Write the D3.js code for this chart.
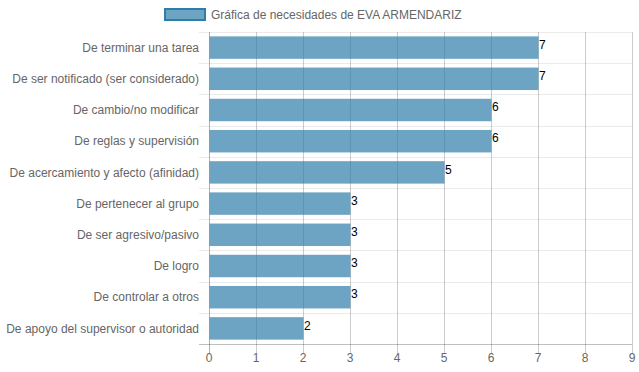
<!DOCTYPE html>
<html>
<head>
<meta charset="utf-8">
<script src="https://cdn.jsdelivr.net/npm/d3@7"></script>
<style>
  body { margin: 0; background: #fff; }
  svg { display: block; font-family: "Liberation Sans", Arial, Helvetica, sans-serif; }
</style>
</head>
<body>
<div id="chart"></div>
<script>
// Données du graphique
const categories = [
  "De terminar una tarea",
  "De ser notificado (ser considerado)",
  "De cambio/no modificar",
  "De reglas y supervisión",
  "De acercamiento y afecto (afinidad)",
  "De pertenecer al grupo",
  "De ser agresivo/pasivo",
  "De logro",
  "De controlar a otros",
  "De apoyo del supervisor o autoridad"
];
const values = [7, 7, 6, 6, 5, 3, 3, 3, 3, 2];
const xTicks = [0, 1, 2, 3, 4, 5, 6, 7, 8, 9];
const seriesLabel = "Gráfica de necesidades de EVA ARMENDARIZ";

(function() {
  const W = 639, H = 372;
  const margin = { top: 32, right: 7, bottom: 28, left: 209 };

  const svg = d3.select("#chart").append("svg")
    .attr("width", W)
    .attr("height", H);

  const x = d3.scaleLinear()
    .domain([0, 9])
    .range([margin.left, W - margin.right]);

  const y = d3.scaleBand()
    .domain(categories)
    .range([margin.top, H - margin.bottom]);

  const barH = y.bandwidth() * 0.72;
  const bottom = H - margin.bottom;

  // Lignes horizontales (entre catégories)
  const hLines = categories.map(c => y(c)).concat([bottom]);
  svg.append("g").selectAll("line")
    .data(hLines)
    .enter().append("line")
    .attr("x1", margin.left - 10)
    .attr("x2", x(9))
    .attr("y1", d => Math.round(d) + 0.5)
    .attr("y2", d => Math.round(d) + 0.5)
    .attr("stroke", (d, i) => i === hLines.length - 1 ? "rgba(0,0,0,0.25)" : "rgba(0,0,0,0.08)");

  // Lignes verticales
  svg.append("g").selectAll("line")
    .data(xTicks)
    .enter().append("line")
    .attr("x1", d => Math.round(x(d)) + 0.5)
    .attr("x2", d => Math.round(x(d)) + 0.5)
    .attr("y1", margin.top)
    .attr("y2", bottom + 9)
    .attr("stroke", d => d === 0 ? "rgba(0,0,0,0.3)" : "rgba(0,0,0,0.2)");

  // Barres
  svg.append("g").selectAll("rect")
    .data(values)
    .enter().append("rect")
    .attr("x", x(0) + 0.5)
    .attr("y", (d, i) => y(categories[i]) + (y.bandwidth() - barH) / 2)
    .attr("width", d => x(d) - x(0))
    .attr("height", barH)
    .attr("fill", "rgba(47,126,170,0.7)");

  // Valeurs
  svg.append("g").selectAll("text")
    .data(values)
    .enter().append("text")
    .attr("x", d => x(d) + 1)
    .attr("y", (d, i) => y(categories[i]) + y.bandwidth() / 2 - 3)
    .attr("dy", "0.35em")
    .attr("font-size", 12)
    .attr("fill", "#000")
    .text(d => d);

  // Étiquettes des catégories
  svg.append("g").selectAll("text")
    .data(categories)
    .enter().append("text")
    .attr("x", margin.left - 10)
    .attr("y", d => y(d) + y.bandwidth() / 2)
    .attr("dy", "0.35em")
    .attr("text-anchor", "end")
    .attr("font-size", 12)
    .attr("fill", "#666")
    .text(d => d);

  // Étiquettes de l'axe x
  svg.append("g").selectAll("text")
    .data(xTicks)
    .enter().append("text")
    .attr("x", d => x(d))
    .attr("y", bottom + 14)
    .attr("dy", "0.35em")
    .attr("text-anchor", "middle")
    .attr("font-size", 12)
    .attr("fill", "#666")
    .text(d => d);

  // Légende
  const legend = svg.append("g").attr("transform", "translate(165,9)");
  legend.append("rect")
    .attr("x", 0)
    .attr("y", 0)
    .attr("width", 40)
    .attr("height", 11)
    .attr("fill", "rgba(47,126,170,0.7)")
    .attr("stroke", "rgb(47,126,170)")
    .attr("stroke-width", 2);
  legend.append("text")
    .attr("x", 46)
    .attr("y", 6)
    .attr("dy", "0.35em")
    .attr("font-size", 12)
    .attr("fill", "#666")
    .text(seriesLabel);
})();
</script>
</body>
</html>
